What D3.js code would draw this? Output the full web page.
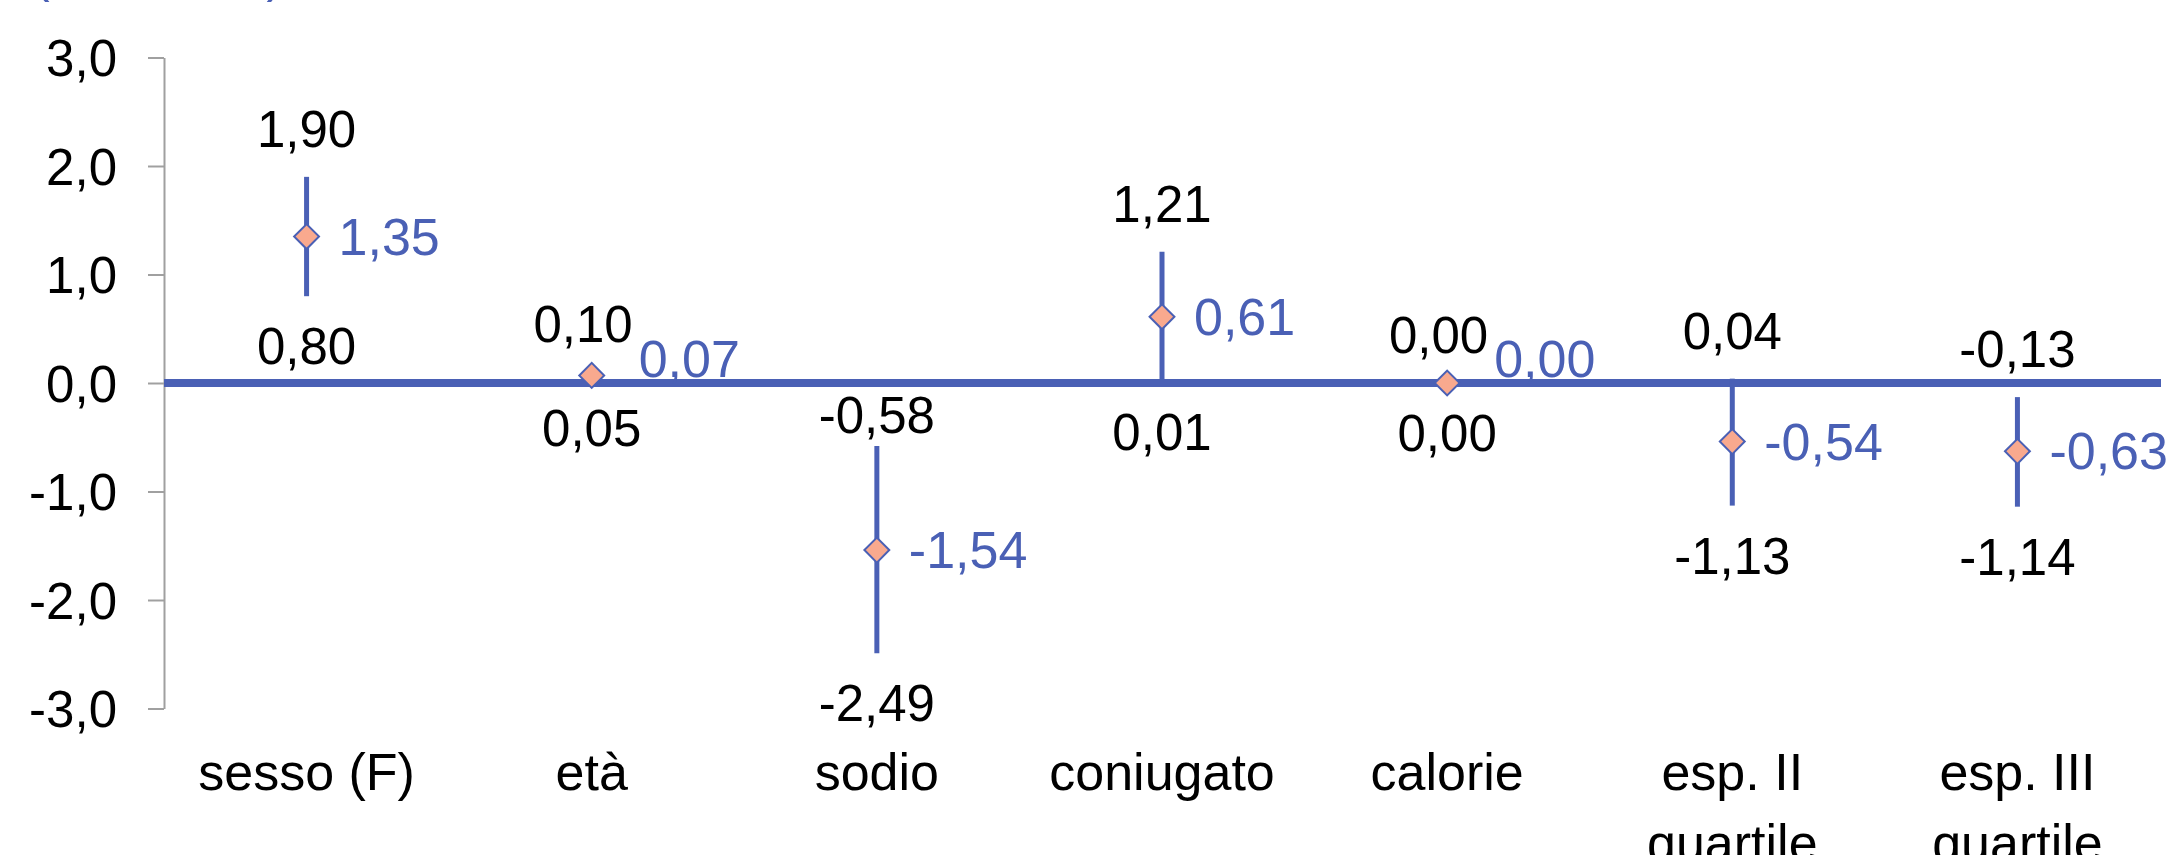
<html>
<title>Coefficienti con intervalli di confidenza</title>
<script src="https://d3js.org/d3.v7.min.js"></script>
<style>
  body{ margin:0; background:#fff; }
  text{ font-family:"Liberation Sans", Arial, sans-serif; }
</style>
<body>
<div id="my_dataviz"></div>
<script>
// values
var categories = ["sesso (F)", "età", "sodio", "coniugato", "calorie", "esp. II quartile", "esp. III quartile"];
var means  = [1.35, 0.07, -1.54, 0.61, 0.00, -0.54, -0.63];
var lowers = [0.80, 0.05, -2.49, 0.01, 0.00, -1.13, -1.14];
var uppers = [1.90, 0.10, -0.58, 1.21, 0.00, 0.04, -0.13];
var yTicks = [-3, -2, -1, 0, 1, 2, 3];

var width = 2176, height = 855;
var blue = "#4a60b5", salmon = "#f9a98e";

var xs = d3.scaleBand().domain(categories).range([164, 2160]);
var ys = d3.scaleLinear().domain([-3, 3]).range([708.5, 57.5]);

function comma(v, n) {
    return d3.format("." + n + "f")(v).replace(".", ",").replace("\u2212", "-");
}
function cx(i) { return xs(categories[i]) + xs.bandwidth() / 2; }

var svg = d3.select("#my_dataviz").append("svg")
    .attr("width", width)
    .attr("height", height);

// cut-off heading at the top
svg.append("text")
    .attr("x", 33).attr("y", -8)
    .attr("font-size", 50)
    .attr("fill", blue)
    .text("(IC al 95%)");

// y axis
var yAxis = svg.append("g")
    .attr("transform", "translate(164,0)")
    .call(d3.axisLeft(ys).tickValues(yTicks).tickSize(16).tickSizeOuter(0).tickPadding(31)
        .tickFormat(function(d) { return comma(d, 1); }));
yAxis.attr("font-size", 51).attr("font-family", "Liberation Sans, Arial, sans-serif");
yAxis.select(".domain").attr("stroke", "#a0a0a0").attr("stroke-width", 2);
yAxis.selectAll(".tick line").attr("stroke", "#a0a0a0").attr("stroke-width", 2);
yAxis.selectAll(".tick text").attr("fill", "#000").attr("dy", "0.36em");

// zero line
var zeroY = ys(0);
svg.append("line")
    .attr("x1", 164).attr("x2", 2161)
    .attr("y1", zeroY).attr("y2", zeroY)
    .attr("stroke", blue).attr("stroke-width", 8);

// error bars
svg.selectAll(".bar").data(categories).enter().append("line")
    .attr("class", "bar")
    .attr("x1", function(d, i) { return cx(i); })
    .attr("x2", function(d, i) { return cx(i); })
    .attr("y1", function(d, i) { return ys(lowers[i]); })
    .attr("y2", function(d, i) { return ys(uppers[i]); })
    .attr("stroke", blue).attr("stroke-width", 5);

// markers
svg.selectAll(".mark").data(categories).enter().append("path")
    .attr("class", "mark")
    .attr("d", d3.symbol(d3.symbolSquare, 310))
    .attr("transform", function(d, i) { return "translate(" + cx(i) + "," + ys(means[i]) + ") rotate(45)"; })
    .attr("fill", salmon)
    .attr("stroke", blue).attr("stroke-width", 2);

var digitH = 36;
function hitsZero(top, bottom) { return top < zeroY + 4 && bottom > zeroY - 4; }

categories.forEach(function(c, i) {
    var x = cx(i);

    // mean label, right of the marker
    var mx = x + 32, mb = ys(means[i]) + digitH / 2;
    if (hitsZero(mb - digitH - 4, mb)) { mb = zeroY - 6; mx += 15; }
    svg.append("text")
        .attr("x", mx).attr("y", mb)
        .attr("font-size", 52).attr("fill", blue)
        .text(comma(means[i], 2));

    // upper bound label
    var ub = ys(uppers[i]) - 30;
    if (hitsZero(ub - digitH, ub)) { ub = zeroY + 14 + digitH; }
    var ut = svg.append("text")
        .attr("x", x).attr("y", ub)
        .attr("text-anchor", "middle")
        .attr("font-size", 51).attr("fill", "#000")
        .text(comma(uppers[i], 2));
    var uw = ut.node().getComputedTextLength();
    if (ub > mb - digitH && ub - digitH < mb && x + uw / 2 > mx - 6) {
        ut.attr("x", mx - 6 - uw / 2);
    }

    // lower bound label
    svg.append("text")
        .attr("x", x).attr("y", ys(lowers[i]) + 32 + digitH)
        .attr("text-anchor", "middle")
        .attr("font-size", 51).attr("fill", "#000")
        .text(comma(lowers[i], 2));
});

// category labels, wrapped to the band width
var cat = svg.selectAll(".cat").data(categories).enter().append("text")
    .attr("class", "cat")
    .attr("text-anchor", "middle")
    .attr("font-size", 52).attr("fill", "#000");
cat.each(function(d, i) {
    var t = d3.select(this), words = d.split(" "), line = [];
    var tspan = t.append("tspan").attr("x", cx(i)).attr("y", 790);
    var n = 0;
    words.forEach(function(w) {
        line.push(w);
        tspan.text(line.join(" "));
        if (tspan.node().getComputedTextLength() > xs.bandwidth() && line.length > 1) {
            line.pop();
            tspan.text(line.join(" "));
            line = [w];
            n++;
            tspan = t.append("tspan").attr("x", cx(i)).attr("y", 790 + n * 71).text(w);
        }
    });
});
</script>
</body>
</html>
